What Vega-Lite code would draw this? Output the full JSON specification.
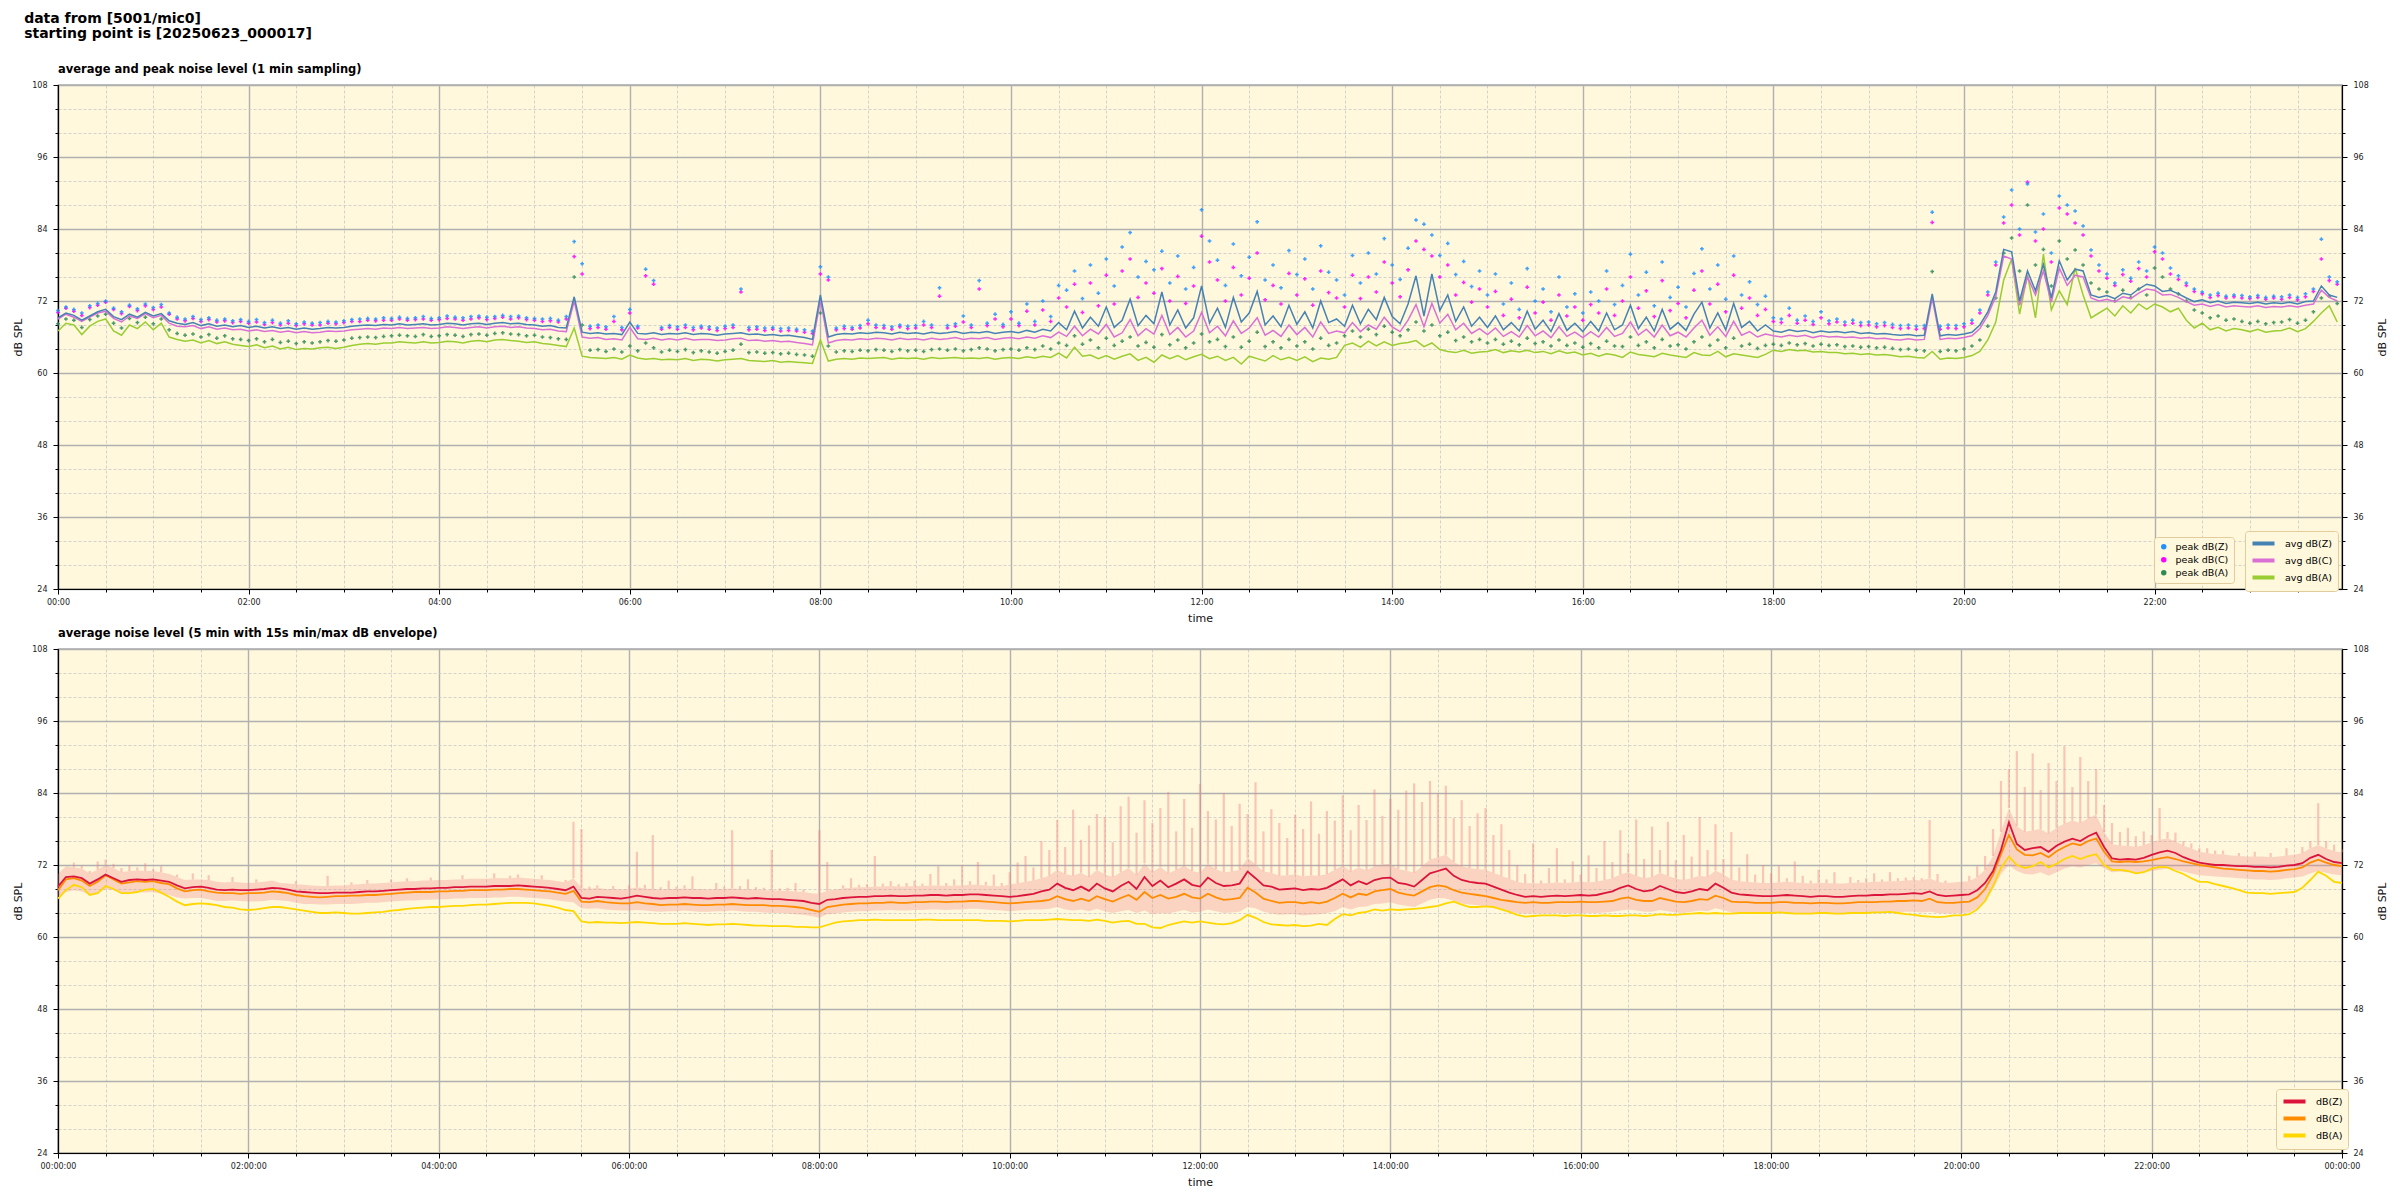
{
"$schema": "https://vega.github.io/schema/vega-lite/v6.json",
"background": "white",
"padding": {"left": 12, "top": 12, "right": 10, "bottom": 8},
"title": {"text": ["data from [5001/mic0]", "starting point is [20250623_000017]"], "anchor": "start", "frame": "bounds", "fontSize": 14, "fontWeight": "bold", "lineHeight": 14.5, "font": "DejaVu Sans", "color": "black", "offset": 22, "dx": 12},
"config": {
  "font": "DejaVu Sans",
  "view": {"fill": "#fff8dc", "stroke": "black", "strokeWidth": 1.2},
  "axis": {"labelFont": "DejaVu Sans", "labelFontSize": 8, "labelColor": "#222222", "titleFont": "DejaVu Sans", "titleFontSize": 11, "titleFontWeight": "normal", "titleColor": "#111111", "domainColor": "black", "domainWidth": 1.2, "tickColor": "black", "tickWidth": 1},
  "legend": {"labelFont": "DejaVu Sans", "labelFontSize": 9.5, "labelColor": "black", "fillColor": "#fff8dc", "strokeColor": "#e3cc9c", "cornerRadius": 3, "padding": 5, "rowPadding": 0, "labelOffset": 7},
  "title": {"font": "DejaVu Sans", "color": "black"}
},
"spacing": 2,
"datasets": {
"top": [
{"m":0,"Z":69.2,"C":69.0,"A":67.0,"P":70.4,"Q":70.1,"R":68.2},
{"m":5,"Z":70.0,"C":69.8,"A":68.3,"P":71.0,"Q":70.8,"R":69.0},
{"m":10,"Z":69.6,"C":69.3,"A":68.0,"P":70.6,"Q":70.3,"R":68.8},
{"m":15,"Z":68.8,"C":68.6,"A":66.4,"P":70.0,"Q":69.6,"R":67.6},
{"m":20,"Z":69.5,"C":69.3,"A":67.8,"P":71.2,"Q":70.9,"R":68.9},
{"m":25,"Z":70.2,"C":70.0,"A":68.6,"P":71.6,"Q":71.3,"R":69.5},
{"m":30,"Z":70.6,"C":70.3,"A":69.0,"P":72.0,"Q":71.8,"R":69.8},
{"m":35,"Z":69.4,"C":69.1,"A":67.0,"P":70.8,"Q":70.6,"R":68.3},
{"m":40,"Z":68.9,"C":68.5,"A":66.3,"P":70.2,"Q":69.9,"R":67.5},
{"m":45,"Z":69.8,"C":69.5,"A":68.0,"P":71.3,"Q":71.1,"R":69.1},
{"m":50,"Z":69.3,"C":69.1,"A":67.4,"P":70.7,"Q":70.4,"R":68.4},
{"m":55,"Z":70.1,"C":69.9,"A":68.5,"P":71.5,"Q":71.2,"R":69.3},
{"m":60,"Z":69.5,"C":69.2,"A":67.2,"P":70.9,"Q":70.6,"R":68.2},
{"m":65,"Z":69.9,"C":69.6,"A":68.3,"P":71.4,"Q":71.0,"R":69.0},
{"m":70,"Z":68.7,"C":68.3,"A":66.0,"P":70.0,"Q":69.8,"R":67.2},
{"m":75,"Z":68.3,"C":67.8,"A":65.6,"P":69.3,"Q":69.0,"R":66.6},
{"m":80,"Z":68.1,"C":67.7,"A":65.3,"P":69.0,"Q":68.7,"R":66.3},
{"m":85,"Z":68.4,"C":67.9,"A":65.5,"P":69.4,"Q":69.1,"R":66.5},
{"m":90,"Z":67.9,"C":67.4,"A":65.0,"P":68.9,"Q":68.6,"R":66.0},
{"m":95,"Z":68.2,"C":67.7,"A":65.4,"P":69.2,"Q":68.9,"R":66.4},
{"m":100,"Z":67.8,"C":67.3,"A":64.9,"P":68.8,"Q":68.5,"R":65.8},
{"m":105,"Z":68.0,"C":67.5,"A":65.2,"P":69.0,"Q":68.7,"R":66.2},
{"m":110,"Z":67.7,"C":67.2,"A":64.8,"P":68.7,"Q":68.4,"R":65.7},
{"m":115,"Z":67.9,"C":67.3,"A":64.6,"P":68.9,"Q":68.6,"R":65.6},
{"m":120,"Z":67.6,"C":67.0,"A":64.4,"P":68.6,"Q":68.3,"R":65.4},
{"m":125,"Z":67.8,"C":67.2,"A":64.7,"P":68.9,"Q":68.5,"R":65.7},
{"m":130,"Z":67.5,"C":66.9,"A":64.2,"P":68.4,"Q":68.1,"R":65.2},
{"m":135,"Z":67.7,"C":67.1,"A":64.5,"P":68.8,"Q":68.4,"R":65.6},
{"m":140,"Z":67.4,"C":66.8,"A":64.0,"P":68.3,"Q":68.0,"R":65.1},
{"m":145,"Z":67.6,"C":67.0,"A":64.3,"P":68.7,"Q":68.3,"R":65.3},
{"m":150,"Z":67.3,"C":66.7,"A":63.9,"P":68.2,"Q":67.9,"R":64.9},
{"m":155,"Z":67.5,"C":66.9,"A":64.1,"P":68.5,"Q":68.2,"R":65.2},
{"m":160,"Z":67.3,"C":66.7,"A":64.0,"P":68.3,"Q":68.0,"R":65.0},
{"m":165,"Z":67.4,"C":66.8,"A":64.2,"P":68.4,"Q":68.0,"R":65.2},
{"m":170,"Z":67.6,"C":67.0,"A":64.3,"P":68.6,"Q":68.3,"R":65.4},
{"m":175,"Z":67.5,"C":66.9,"A":64.1,"P":68.5,"Q":68.2,"R":65.3},
{"m":180,"Z":67.6,"C":67.0,"A":64.3,"P":68.7,"Q":68.4,"R":65.5},
{"m":185,"Z":67.8,"C":67.2,"A":64.6,"P":68.9,"Q":68.6,"R":65.8},
{"m":190,"Z":67.9,"C":67.3,"A":64.8,"P":69.0,"Q":68.6,"R":65.9},
{"m":195,"Z":68.0,"C":67.4,"A":64.9,"P":69.1,"Q":68.8,"R":66.0},
{"m":200,"Z":67.9,"C":67.3,"A":64.8,"P":69.0,"Q":68.7,"R":65.9},
{"m":205,"Z":68.1,"C":67.5,"A":65.0,"P":69.2,"Q":68.8,"R":66.1},
{"m":210,"Z":68.0,"C":67.4,"A":65.0,"P":69.1,"Q":68.8,"R":66.2},
{"m":215,"Z":68.2,"C":67.6,"A":65.2,"P":69.3,"Q":69.0,"R":66.3},
{"m":220,"Z":68.0,"C":67.4,"A":65.1,"P":69.1,"Q":68.8,"R":66.2},
{"m":225,"Z":68.1,"C":67.5,"A":65.0,"P":69.2,"Q":68.9,"R":66.1},
{"m":230,"Z":68.2,"C":67.6,"A":65.2,"P":69.4,"Q":69.0,"R":66.4},
{"m":235,"Z":68.0,"C":67.4,"A":65.0,"P":69.1,"Q":68.8,"R":66.1},
{"m":240,"Z":68.1,"C":67.5,"A":65.1,"P":69.2,"Q":68.9,"R":66.2},
{"m":245,"Z":68.3,"C":67.7,"A":65.3,"P":69.5,"Q":69.1,"R":66.4},
{"m":250,"Z":68.2,"C":67.6,"A":65.2,"P":69.3,"Q":69.0,"R":66.3},
{"m":255,"Z":68.0,"C":67.4,"A":65.0,"P":69.2,"Q":68.8,"R":66.1},
{"m":260,"Z":68.2,"C":67.6,"A":65.3,"P":69.4,"Q":69.0,"R":66.4},
{"m":265,"Z":68.3,"C":67.7,"A":65.4,"P":69.5,"Q":69.2,"R":66.5},
{"m":270,"Z":68.1,"C":67.5,"A":65.2,"P":69.3,"Q":68.9,"R":66.3},
{"m":275,"Z":68.3,"C":67.7,"A":65.5,"P":69.4,"Q":69.1,"R":66.6},
{"m":280,"Z":68.4,"C":67.8,"A":65.6,"P":69.6,"Q":69.3,"R":66.7},
{"m":285,"Z":68.2,"C":67.6,"A":65.4,"P":69.4,"Q":69.0,"R":66.5},
{"m":290,"Z":68.3,"C":67.7,"A":65.3,"P":69.5,"Q":69.2,"R":66.4},
{"m":295,"Z":68.1,"C":67.5,"A":65.1,"P":69.2,"Q":68.9,"R":66.2},
{"m":300,"Z":68.0,"C":67.4,"A":65.2,"P":69.1,"Q":68.8,"R":66.3},
{"m":305,"Z":67.8,"C":67.2,"A":64.9,"P":69.0,"Q":68.6,"R":66.0},
{"m":310,"Z":67.9,"C":67.3,"A":64.8,"P":69.1,"Q":68.7,"R":65.9},
{"m":315,"Z":67.6,"C":67.0,"A":64.6,"P":68.8,"Q":68.5,"R":65.7},
{"m":320,"Z":67.5,"C":66.9,"A":64.4,"P":69.4,"Q":69.0,"R":65.6},
{"m":325,"Z":72.7,"C":72.0,"A":67.5,"P":81.9,"Q":79.4,"R":76.0},
{"m":330,"Z":66.8,"C":66.0,"A":62.8,"P":78.2,"Q":76.5,"R":68.0},
{"m":335,"Z":66.6,"C":65.8,"A":62.6,"P":67.8,"Q":67.4,"R":63.8},
{"m":340,"Z":66.7,"C":65.9,"A":62.5,"P":68.0,"Q":67.6,"R":63.9},
{"m":345,"Z":66.5,"C":65.6,"A":62.4,"P":67.7,"Q":67.3,"R":63.6},
{"m":350,"Z":66.6,"C":65.7,"A":62.6,"P":69.4,"Q":68.6,"R":64.0},
{"m":355,"Z":66.4,"C":65.5,"A":62.3,"P":67.6,"Q":67.2,"R":63.5},
{"m":360,"Z":68.5,"C":67.6,"A":63.0,"P":70.6,"Q":70.0,"R":64.5},
{"m":365,"Z":66.6,"C":65.7,"A":62.5,"P":67.8,"Q":67.5,"R":63.7},
{"m":370,"Z":66.5,"C":65.6,"A":62.3,"P":77.3,"Q":76.2,"R":65.0},
{"m":375,"Z":66.7,"C":65.8,"A":62.4,"P":75.4,"Q":74.8,"R":64.2},
{"m":380,"Z":66.4,"C":65.5,"A":62.2,"P":67.6,"Q":67.3,"R":63.5},
{"m":385,"Z":66.6,"C":65.7,"A":62.3,"P":67.9,"Q":67.6,"R":63.8},
{"m":390,"Z":66.5,"C":65.5,"A":62.2,"P":67.7,"Q":67.3,"R":63.6},
{"m":395,"Z":66.7,"C":65.8,"A":62.4,"P":68.0,"Q":67.6,"R":63.9},
{"m":400,"Z":66.4,"C":65.5,"A":62.1,"P":67.6,"Q":67.2,"R":63.4},
{"m":405,"Z":66.6,"C":65.6,"A":62.3,"P":67.8,"Q":67.5,"R":63.7},
{"m":410,"Z":66.5,"C":65.6,"A":62.2,"P":67.7,"Q":67.3,"R":63.5},
{"m":415,"Z":66.3,"C":65.4,"A":62.0,"P":67.5,"Q":67.1,"R":63.3},
{"m":420,"Z":66.5,"C":65.5,"A":62.2,"P":67.8,"Q":67.4,"R":63.6},
{"m":425,"Z":66.6,"C":65.7,"A":62.3,"P":68.0,"Q":67.6,"R":63.8},
{"m":430,"Z":66.7,"C":65.8,"A":62.4,"P":74.0,"Q":73.5,"R":64.8},
{"m":435,"Z":66.4,"C":65.4,"A":62.1,"P":67.6,"Q":67.2,"R":63.4},
{"m":440,"Z":66.5,"C":65.5,"A":62.0,"P":67.7,"Q":67.3,"R":63.5},
{"m":445,"Z":66.3,"C":65.3,"A":61.9,"P":67.5,"Q":67.1,"R":63.3},
{"m":450,"Z":66.4,"C":65.4,"A":62.1,"P":67.6,"Q":67.3,"R":63.4},
{"m":455,"Z":66.2,"C":65.2,"A":61.8,"P":67.4,"Q":67.0,"R":63.2},
{"m":460,"Z":66.3,"C":65.3,"A":61.9,"P":67.5,"Q":67.1,"R":63.3},
{"m":465,"Z":66.1,"C":65.1,"A":61.8,"P":67.3,"Q":67.0,"R":63.1},
{"m":470,"Z":65.9,"C":64.9,"A":61.7,"P":67.2,"Q":66.8,"R":63.0},
{"m":475,"Z":65.6,"C":64.7,"A":61.6,"P":67.0,"Q":66.6,"R":62.8},
{"m":480,"Z":73.0,"C":72.2,"A":65.5,"P":77.7,"Q":76.5,"R":70.0},
{"m":485,"Z":66.0,"C":65.0,"A":62.0,"P":76.0,"Q":75.5,"R":64.5},
{"m":490,"Z":66.4,"C":65.4,"A":62.3,"P":67.5,"Q":67.2,"R":63.5},
{"m":495,"Z":66.6,"C":65.6,"A":62.4,"P":67.8,"Q":67.4,"R":63.7},
{"m":500,"Z":66.5,"C":65.5,"A":62.3,"P":67.6,"Q":67.3,"R":63.6},
{"m":505,"Z":66.7,"C":65.7,"A":62.5,"P":67.9,"Q":67.5,"R":63.8},
{"m":510,"Z":66.6,"C":65.6,"A":62.4,"P":68.8,"Q":68.2,"R":63.7},
{"m":515,"Z":66.8,"C":65.8,"A":62.5,"P":68.0,"Q":67.6,"R":63.9},
{"m":520,"Z":66.7,"C":65.7,"A":62.6,"P":67.9,"Q":67.5,"R":63.8},
{"m":525,"Z":66.5,"C":65.5,"A":62.3,"P":67.7,"Q":67.3,"R":63.6},
{"m":530,"Z":66.8,"C":65.8,"A":62.5,"P":68.0,"Q":67.7,"R":63.9},
{"m":535,"Z":66.6,"C":65.6,"A":62.4,"P":67.8,"Q":67.4,"R":63.7},
{"m":540,"Z":66.7,"C":65.7,"A":62.5,"P":67.9,"Q":67.5,"R":63.8},
{"m":545,"Z":66.5,"C":65.5,"A":62.3,"P":68.6,"Q":68.0,"R":63.6},
{"m":550,"Z":66.8,"C":65.8,"A":62.6,"P":68.0,"Q":67.6,"R":63.9},
{"m":555,"Z":66.6,"C":65.6,"A":62.4,"P":74.2,"Q":72.8,"R":64.0},
{"m":560,"Z":66.7,"C":65.7,"A":62.5,"P":67.9,"Q":67.5,"R":63.8},
{"m":565,"Z":66.9,"C":65.9,"A":62.6,"P":68.2,"Q":67.8,"R":64.0},
{"m":570,"Z":66.6,"C":65.6,"A":62.4,"P":69.5,"Q":68.5,"R":63.7},
{"m":575,"Z":66.8,"C":65.8,"A":62.5,"P":68.0,"Q":67.6,"R":63.9},
{"m":580,"Z":66.7,"C":65.7,"A":62.4,"P":75.4,"Q":74.0,"R":64.2},
{"m":585,"Z":66.9,"C":65.9,"A":62.6,"P":68.3,"Q":67.9,"R":64.0},
{"m":590,"Z":66.6,"C":65.6,"A":62.3,"P":69.8,"Q":69.0,"R":63.7},
{"m":595,"Z":66.8,"C":65.8,"A":62.5,"P":68.1,"Q":67.7,"R":63.9},
{"m":600,"Z":66.9,"C":65.9,"A":62.6,"P":70.2,"Q":69.0,"R":64.0},
{"m":605,"Z":66.7,"C":65.7,"A":62.4,"P":68.3,"Q":67.9,"R":63.8},
{"m":610,"Z":67.1,"C":66.0,"A":62.7,"P":71.5,"Q":70.3,"R":64.2},
{"m":615,"Z":66.8,"C":65.8,"A":62.5,"P":68.6,"Q":68.0,"R":63.9},
{"m":620,"Z":67.3,"C":66.2,"A":62.8,"P":72.0,"Q":70.5,"R":64.5},
{"m":625,"Z":67.0,"C":65.9,"A":62.6,"P":69.4,"Q":68.6,"R":64.0},
{"m":630,"Z":68.4,"C":66.8,"A":63.3,"P":74.6,"Q":72.5,"R":65.0},
{"m":635,"Z":67.2,"C":66.1,"A":62.5,"P":73.8,"Q":71.0,"R":64.6},
{"m":640,"Z":70.3,"C":67.8,"A":64.3,"P":77.0,"Q":74.8,"R":66.2},
{"m":645,"Z":67.5,"C":66.2,"A":62.8,"P":72.4,"Q":70.1,"R":64.8},
{"m":650,"Z":69.3,"C":67.3,"A":63.0,"P":78.0,"Q":75.0,"R":65.5},
{"m":655,"Z":67.8,"C":66.5,"A":62.4,"P":73.3,"Q":71.2,"R":64.2},
{"m":660,"Z":71.0,"C":68.1,"A":62.9,"P":79.0,"Q":76.3,"R":65.8},
{"m":665,"Z":67.6,"C":66.0,"A":62.3,"P":74.5,"Q":71.5,"R":64.6},
{"m":670,"Z":68.8,"C":66.7,"A":62.8,"P":81.0,"Q":77.0,"R":65.3},
{"m":675,"Z":72.3,"C":68.9,"A":63.2,"P":83.4,"Q":79.0,"R":66.0},
{"m":680,"Z":67.9,"C":66.2,"A":62.1,"P":76.0,"Q":72.6,"R":64.5},
{"m":685,"Z":69.6,"C":67.4,"A":62.6,"P":78.6,"Q":75.0,"R":65.1},
{"m":690,"Z":68.2,"C":66.5,"A":61.8,"P":77.2,"Q":73.3,"R":64.3},
{"m":695,"Z":73.5,"C":69.6,"A":63.0,"P":80.3,"Q":77.4,"R":66.4},
{"m":700,"Z":68.0,"C":66.4,"A":62.4,"P":75.0,"Q":72.0,"R":64.7},
{"m":705,"Z":70.5,"C":67.6,"A":62.9,"P":79.5,"Q":76.1,"R":65.5},
{"m":710,"Z":67.5,"C":66.0,"A":62.2,"P":74.0,"Q":71.6,"R":64.2},
{"m":715,"Z":69.2,"C":67.0,"A":62.7,"P":77.6,"Q":74.5,"R":65.0},
{"m":720,"Z":74.5,"C":70.1,"A":63.1,"P":87.2,"Q":82.8,"R":66.5},
{"m":725,"Z":68.3,"C":66.7,"A":62.4,"P":82.0,"Q":78.5,"R":65.2},
{"m":730,"Z":70.8,"C":67.8,"A":62.8,"P":78.8,"Q":75.5,"R":65.6},
{"m":735,"Z":67.6,"C":66.2,"A":62.1,"P":74.6,"Q":72.0,"R":64.4},
{"m":740,"Z":72.6,"C":68.7,"A":62.6,"P":81.5,"Q":77.6,"R":66.0},
{"m":745,"Z":68.5,"C":66.6,"A":61.5,"P":76.2,"Q":73.0,"R":64.3},
{"m":750,"Z":70.0,"C":67.5,"A":62.8,"P":79.3,"Q":75.8,"R":65.3},
{"m":755,"Z":73.6,"C":69.2,"A":62.4,"P":85.2,"Q":80.0,"R":66.8},
{"m":760,"Z":68.0,"C":66.3,"A":62.0,"P":75.5,"Q":72.2,"R":64.4},
{"m":765,"Z":69.5,"C":67.1,"A":62.9,"P":78.0,"Q":74.6,"R":65.2},
{"m":770,"Z":67.7,"C":66.1,"A":62.2,"P":74.2,"Q":71.5,"R":64.2},
{"m":775,"Z":71.3,"C":68.0,"A":62.6,"P":80.4,"Q":76.6,"R":65.6},
{"m":780,"Z":68.1,"C":66.4,"A":62.1,"P":76.4,"Q":73.0,"R":64.5},
{"m":785,"Z":70.2,"C":67.6,"A":62.7,"P":79.0,"Q":75.7,"R":65.2},
{"m":790,"Z":67.5,"C":66.0,"A":61.9,"P":74.0,"Q":71.3,"R":64.0},
{"m":795,"Z":72.0,"C":68.5,"A":62.5,"P":81.2,"Q":77.0,"R":65.8},
{"m":800,"Z":68.4,"C":66.6,"A":62.3,"P":76.8,"Q":73.4,"R":64.6},
{"m":805,"Z":69.0,"C":67.0,"A":62.6,"P":75.5,"Q":72.5,"R":65.0},
{"m":810,"Z":67.8,"C":66.7,"A":64.6,"P":73.0,"Q":71.0,"R":66.2},
{"m":815,"Z":71.3,"C":68.4,"A":65.0,"P":79.6,"Q":76.3,"R":67.0},
{"m":820,"Z":68.2,"C":66.9,"A":64.3,"P":75.0,"Q":72.4,"R":66.0},
{"m":825,"Z":70.6,"C":68.0,"A":65.3,"P":80.0,"Q":76.0,"R":67.3},
{"m":830,"Z":68.9,"C":67.3,"A":64.5,"P":76.5,"Q":73.5,"R":66.4},
{"m":835,"Z":72.6,"C":69.3,"A":65.2,"P":82.4,"Q":78.5,"R":67.8},
{"m":840,"Z":69.4,"C":67.7,"A":64.6,"P":78.0,"Q":75.0,"R":66.8},
{"m":845,"Z":68.2,"C":66.9,"A":64.9,"P":75.6,"Q":72.7,"R":66.2},
{"m":850,"Z":71.5,"C":68.8,"A":65.1,"P":80.8,"Q":77.2,"R":67.2},
{"m":855,"Z":76.2,"C":71.4,"A":65.4,"P":85.5,"Q":82.0,"R":68.5},
{"m":860,"Z":69.5,"C":67.7,"A":64.4,"P":84.8,"Q":80.6,"R":67.0},
{"m":865,"Z":76.5,"C":71.6,"A":65.0,"P":83.0,"Q":79.5,"R":68.0},
{"m":870,"Z":70.4,"C":68.3,"A":63.9,"P":79.6,"Q":76.0,"R":66.2},
{"m":875,"Z":73.0,"C":69.8,"A":63.6,"P":81.6,"Q":78.0,"R":66.8},
{"m":880,"Z":68.6,"C":67.2,"A":63.4,"P":76.4,"Q":73.0,"R":65.4},
{"m":885,"Z":71.0,"C":68.3,"A":63.8,"P":78.6,"Q":75.1,"R":66.0},
{"m":890,"Z":67.8,"C":66.6,"A":63.3,"P":74.4,"Q":71.8,"R":65.2},
{"m":895,"Z":69.3,"C":67.4,"A":63.5,"P":77.0,"Q":74.0,"R":65.6},
{"m":900,"Z":67.6,"C":66.4,"A":63.6,"P":73.0,"Q":71.0,"R":65.0},
{"m":905,"Z":69.5,"C":67.5,"A":63.9,"P":76.5,"Q":73.6,"R":65.6},
{"m":910,"Z":67.2,"C":66.1,"A":63.4,"P":71.5,"Q":69.6,"R":64.8},
{"m":915,"Z":68.4,"C":66.9,"A":63.7,"P":75.0,"Q":72.3,"R":65.3},
{"m":920,"Z":67.0,"C":66.0,"A":63.5,"P":70.6,"Q":69.2,"R":64.7},
{"m":925,"Z":70.3,"C":67.9,"A":63.8,"P":77.4,"Q":74.3,"R":65.8},
{"m":930,"Z":67.3,"C":66.2,"A":63.4,"P":72.0,"Q":70.0,"R":64.9},
{"m":935,"Z":68.8,"C":67.0,"A":63.6,"P":74.0,"Q":71.8,"R":65.2},
{"m":940,"Z":66.9,"C":65.9,"A":63.2,"P":70.2,"Q":68.8,"R":64.5},
{"m":945,"Z":69.9,"C":67.7,"A":63.7,"P":76.0,"Q":73.0,"R":65.5},
{"m":950,"Z":67.1,"C":66.1,"A":63.3,"P":71.0,"Q":69.5,"R":64.6},
{"m":955,"Z":68.3,"C":66.8,"A":63.5,"P":73.2,"Q":71.0,"R":65.0},
{"m":960,"Z":66.9,"C":65.9,"A":63.0,"P":70.0,"Q":68.8,"R":64.3},
{"m":965,"Z":68.6,"C":66.9,"A":63.3,"P":73.5,"Q":71.4,"R":64.9},
{"m":970,"Z":67.0,"C":66.0,"A":62.8,"P":72.0,"Q":70.0,"R":64.2},
{"m":975,"Z":70.0,"C":67.6,"A":63.2,"P":77.0,"Q":74.0,"R":65.3},
{"m":980,"Z":67.2,"C":66.1,"A":63.0,"P":71.4,"Q":69.6,"R":64.5},
{"m":985,"Z":68.0,"C":66.6,"A":62.6,"P":74.6,"Q":72.0,"R":64.4},
{"m":990,"Z":71.3,"C":68.5,"A":63.5,"P":79.8,"Q":76.0,"R":66.0},
{"m":995,"Z":67.4,"C":66.3,"A":63.1,"P":73.0,"Q":70.8,"R":64.6},
{"m":1000,"Z":69.3,"C":67.3,"A":62.9,"P":76.8,"Q":73.7,"R":65.2},
{"m":1005,"Z":67.0,"C":66.0,"A":62.7,"P":71.2,"Q":69.4,"R":64.2},
{"m":1010,"Z":70.6,"C":68.0,"A":63.3,"P":78.5,"Q":75.4,"R":65.6},
{"m":1015,"Z":67.3,"C":66.2,"A":63.0,"P":72.6,"Q":70.4,"R":64.5},
{"m":1020,"Z":68.4,"C":66.8,"A":62.8,"P":74.3,"Q":71.6,"R":64.7},
{"m":1025,"Z":67.1,"C":66.0,"A":62.6,"P":71.0,"Q":69.2,"R":64.0},
{"m":1030,"Z":69.8,"C":67.5,"A":63.4,"P":76.6,"Q":73.8,"R":65.2},
{"m":1035,"Z":71.8,"C":68.8,"A":63.0,"P":80.7,"Q":77.0,"R":66.0},
{"m":1040,"Z":67.5,"C":66.3,"A":62.9,"P":74.0,"Q":71.5,"R":64.6},
{"m":1045,"Z":70.0,"C":67.7,"A":63.6,"P":78.0,"Q":74.8,"R":65.5},
{"m":1050,"Z":67.2,"C":66.1,"A":62.7,"P":72.3,"Q":70.2,"R":64.2},
{"m":1055,"Z":71.6,"C":68.6,"A":63.2,"P":79.5,"Q":76.3,"R":65.8},
{"m":1060,"Z":67.6,"C":66.3,"A":63.0,"P":73.0,"Q":70.8,"R":64.5},
{"m":1065,"Z":68.6,"C":66.9,"A":62.8,"P":75.2,"Q":72.5,"R":64.8},
{"m":1070,"Z":67.0,"C":66.0,"A":62.6,"P":71.4,"Q":69.6,"R":64.1},
{"m":1075,"Z":68.0,"C":66.5,"A":63.1,"P":72.8,"Q":70.6,"R":64.6},
{"m":1080,"Z":67.0,"C":66.2,"A":63.8,"P":69.2,"Q":68.6,"R":64.8},
{"m":1085,"Z":66.8,"C":66.0,"A":63.6,"P":69.0,"Q":68.4,"R":64.6},
{"m":1090,"Z":67.2,"C":66.3,"A":63.9,"P":70.8,"Q":69.6,"R":65.0},
{"m":1095,"Z":66.9,"C":66.1,"A":63.7,"P":68.8,"Q":68.3,"R":64.7},
{"m":1100,"Z":67.1,"C":66.3,"A":63.8,"P":69.5,"Q":68.8,"R":64.9},
{"m":1105,"Z":66.7,"C":65.9,"A":63.5,"P":68.6,"Q":68.1,"R":64.5},
{"m":1110,"Z":67.0,"C":66.2,"A":63.6,"P":70.2,"Q":69.2,"R":64.8},
{"m":1115,"Z":66.8,"C":66.0,"A":63.4,"P":68.7,"Q":68.2,"R":64.6},
{"m":1120,"Z":66.9,"C":66.1,"A":63.4,"P":69.0,"Q":68.5,"R":64.7},
{"m":1125,"Z":66.7,"C":65.9,"A":63.2,"P":68.5,"Q":68.0,"R":64.4},
{"m":1130,"Z":66.9,"C":66.0,"A":63.3,"P":68.8,"Q":68.3,"R":64.5},
{"m":1135,"Z":66.6,"C":65.8,"A":63.1,"P":68.4,"Q":67.9,"R":64.3},
{"m":1140,"Z":66.7,"C":65.9,"A":63.2,"P":68.5,"Q":68.0,"R":64.4},
{"m":1145,"Z":66.5,"C":65.7,"A":63.0,"P":68.2,"Q":67.7,"R":64.2},
{"m":1150,"Z":66.6,"C":65.8,"A":63.1,"P":68.4,"Q":67.9,"R":64.3},
{"m":1155,"Z":66.4,"C":65.6,"A":62.9,"P":68.1,"Q":67.6,"R":64.1},
{"m":1160,"Z":66.3,"C":65.5,"A":62.7,"P":67.9,"Q":67.4,"R":63.9},
{"m":1165,"Z":66.4,"C":65.7,"A":62.8,"P":68.0,"Q":67.5,"R":64.0},
{"m":1170,"Z":66.2,"C":65.5,"A":62.6,"P":67.8,"Q":67.3,"R":63.8},
{"m":1175,"Z":66.3,"C":65.6,"A":62.5,"P":67.9,"Q":67.4,"R":63.7},
{"m":1180,"Z":73.2,"C":72.5,"A":63.6,"P":86.8,"Q":85.1,"R":76.9},
{"m":1185,"Z":66.2,"C":65.6,"A":62.3,"P":67.8,"Q":67.3,"R":63.6},
{"m":1190,"Z":66.4,"C":65.8,"A":62.5,"P":68.0,"Q":67.5,"R":63.8},
{"m":1195,"Z":66.3,"C":65.7,"A":62.4,"P":67.9,"Q":67.4,"R":63.7},
{"m":1200,"Z":66.5,"C":65.9,"A":62.6,"P":68.2,"Q":67.7,"R":64.0},
{"m":1205,"Z":66.8,"C":66.2,"A":62.9,"P":68.8,"Q":68.3,"R":64.5},
{"m":1210,"Z":68.0,"C":67.4,"A":63.6,"P":70.5,"Q":70.0,"R":65.5},
{"m":1215,"Z":70.2,"C":69.6,"A":65.5,"P":73.5,"Q":73.0,"R":67.8},
{"m":1220,"Z":73.5,"C":72.8,"A":68.5,"P":78.5,"Q":78.0,"R":72.5},
{"m":1225,"Z":80.6,"C":79.5,"A":75.5,"P":86.0,"Q":85.0,"R":80.0},
{"m":1230,"Z":80.2,"C":79.0,"A":79.0,"P":90.5,"Q":88.0,"R":82.5},
{"m":1235,"Z":72.0,"C":71.3,"A":69.8,"P":84.0,"Q":83.0,"R":77.0},
{"m":1240,"Z":77.0,"C":76.0,"A":76.4,"P":91.5,"Q":91.8,"R":88.0},
{"m":1245,"Z":73.7,"C":73.0,"A":69.2,"P":83.5,"Q":82.0,"R":78.0},
{"m":1250,"Z":78.1,"C":77.0,"A":79.8,"P":86.5,"Q":84.0,"R":80.6},
{"m":1255,"Z":72.5,"C":71.8,"A":70.5,"P":80.0,"Q":78.5,"R":74.5},
{"m":1260,"Z":78.7,"C":77.5,"A":73.7,"P":89.5,"Q":87.5,"R":82.0},
{"m":1265,"Z":75.5,"C":74.6,"A":71.4,"P":88.0,"Q":86.5,"R":79.0},
{"m":1270,"Z":77.3,"C":76.3,"A":77.5,"P":87.0,"Q":85.0,"R":80.5},
{"m":1275,"Z":77.0,"C":76.0,"A":73.0,"P":84.5,"Q":83.0,"R":78.0},
{"m":1280,"Z":73.0,"C":72.5,"A":69.2,"P":80.5,"Q":79.5,"R":75.0},
{"m":1285,"Z":72.6,"C":72.0,"A":70.0,"P":78.0,"Q":77.0,"R":74.0},
{"m":1290,"Z":72.9,"C":72.3,"A":70.8,"P":76.5,"Q":75.8,"R":73.5},
{"m":1295,"Z":72.4,"C":71.9,"A":69.5,"P":75.0,"Q":74.6,"R":72.0},
{"m":1300,"Z":73.3,"C":72.7,"A":71.2,"P":77.2,"Q":76.4,"R":73.8},
{"m":1305,"Z":73.0,"C":72.4,"A":70.0,"P":75.8,"Q":75.3,"R":72.6},
{"m":1310,"Z":74.0,"C":73.3,"A":71.5,"P":78.5,"Q":77.4,"R":74.0},
{"m":1315,"Z":74.8,"C":74.0,"A":70.6,"P":77.0,"Q":76.0,"R":73.0},
{"m":1320,"Z":74.5,"C":73.8,"A":71.5,"P":81.0,"Q":80.2,"R":77.5},
{"m":1325,"Z":73.6,"C":73.0,"A":71.0,"P":80.0,"Q":79.0,"R":76.0},
{"m":1330,"Z":73.8,"C":73.1,"A":70.2,"P":77.5,"Q":76.5,"R":74.0},
{"m":1335,"Z":73.2,"C":72.6,"A":70.8,"P":76.2,"Q":75.6,"R":73.2},
{"m":1340,"Z":72.5,"C":71.9,"A":68.8,"P":75.0,"Q":74.6,"R":72.0},
{"m":1345,"Z":71.9,"C":71.3,"A":67.5,"P":74.0,"Q":73.6,"R":70.5},
{"m":1350,"Z":72.2,"C":71.5,"A":68.3,"P":73.5,"Q":73.2,"R":70.0},
{"m":1355,"Z":71.7,"C":71.1,"A":67.2,"P":73.0,"Q":72.6,"R":69.2},
{"m":1360,"Z":72.0,"C":71.4,"A":67.6,"P":73.3,"Q":72.9,"R":69.5},
{"m":1365,"Z":71.6,"C":71.0,"A":67.0,"P":72.8,"Q":72.5,"R":68.8},
{"m":1370,"Z":71.8,"C":71.2,"A":67.4,"P":73.0,"Q":72.7,"R":69.0},
{"m":1375,"Z":71.7,"C":71.1,"A":67.2,"P":72.9,"Q":72.5,"R":68.6},
{"m":1380,"Z":71.6,"C":71.0,"A":66.9,"P":72.7,"Q":72.4,"R":68.3},
{"m":1385,"Z":71.8,"C":71.2,"A":67.3,"P":72.9,"Q":72.6,"R":68.6},
{"m":1390,"Z":71.5,"C":70.9,"A":66.8,"P":72.6,"Q":72.3,"R":68.2},
{"m":1395,"Z":71.7,"C":71.1,"A":67.0,"P":72.8,"Q":72.5,"R":68.4},
{"m":1400,"Z":71.6,"C":71.0,"A":67.1,"P":72.7,"Q":72.3,"R":68.5},
{"m":1405,"Z":71.8,"C":71.2,"A":67.5,"P":73.0,"Q":72.6,"R":68.9},
{"m":1410,"Z":71.5,"C":71.0,"A":66.9,"P":72.6,"Q":72.2,"R":68.3},
{"m":1415,"Z":71.9,"C":71.3,"A":67.4,"P":73.2,"Q":72.7,"R":68.8},
{"m":1420,"Z":72.0,"C":71.5,"A":68.6,"P":74.0,"Q":73.6,"R":70.2},
{"m":1425,"Z":74.5,"C":73.8,"A":70.0,"P":82.3,"Q":79.0,"R":72.5},
{"m":1430,"Z":73.0,"C":72.6,"A":71.2,"P":76.0,"Q":75.4,"R":72.8},
{"m":1435,"Z":72.6,"C":72.0,"A":68.5,"P":75.2,"Q":74.8,"R":71.6}
],
"bot": [
{"m":0,"z":68.4,"c":67.8,"a":66.4,"lo":66.8,"b":70.5,"hi":70.5},
{"m":5,"z":70.0,"c":69.6,"a":67.8,"lo":67.5,"b":71.8,"hi":71.8},
{"m":10,"z":70.1,"c":69.8,"a":68.7,"lo":67.8,"b":71.6,"hi":72.4},
{"m":15,"z":69.8,"c":69.4,"a":68.3,"lo":67.6,"b":71.4,"hi":71.9},
{"m":20,"z":68.9,"c":68.5,"a":67.0,"lo":67.0,"b":70.6,"hi":71.0},
{"m":25,"z":69.6,"c":69.2,"a":67.3,"lo":67.3,"b":71.2,"hi":72.6},
{"m":30,"z":70.4,"c":70.3,"a":68.5,"lo":68.0,"b":72.0,"hi":72.9},
{"m":35,"z":69.8,"c":69.6,"a":68.0,"lo":67.8,"b":71.5,"hi":72.2},
{"m":40,"z":69.2,"c":68.9,"a":67.3,"lo":67.4,"b":70.8,"hi":71.5},
{"m":45,"z":69.5,"c":69.1,"a":67.3,"lo":67.3,"b":71.0,"hi":72.0},
{"m":50,"z":69.6,"c":69.3,"a":67.5,"lo":67.5,"b":71.1,"hi":71.6},
{"m":55,"z":69.5,"c":69.2,"a":67.9,"lo":67.4,"b":71.0,"hi":72.3},
{"m":60,"z":69.6,"c":69.3,"a":68.0,"lo":67.5,"b":71.0,"hi":71.4},
{"m":65,"z":69.4,"c":69.0,"a":67.4,"lo":67.2,"b":70.8,"hi":71.8},
{"m":70,"z":69.2,"c":68.8,"a":66.7,"lo":67.0,"b":70.5,"hi":70.8},
{"m":75,"z":68.6,"c":68.1,"a":65.9,"lo":66.6,"b":70.0,"hi":70.4},
{"m":80,"z":68.1,"c":67.6,"a":65.3,"lo":66.4,"b":69.5,"hi":69.8},
{"m":85,"z":68.3,"c":67.8,"a":65.5,"lo":66.5,"b":69.6,"hi":70.6},
{"m":90,"z":68.4,"c":67.9,"a":65.6,"lo":66.5,"b":69.6,"hi":69.7},
{"m":95,"z":68.2,"c":67.6,"a":65.5,"lo":66.3,"b":69.5,"hi":70.3},
{"m":100,"z":67.9,"c":67.4,"a":65.3,"lo":66.0,"b":69.2,"hi":69.4},
{"m":105,"z":67.8,"c":67.3,"a":65.0,"lo":66.0,"b":69.1,"hi":69.1},
{"m":110,"z":67.9,"c":67.3,"a":64.9,"lo":66.1,"b":69.2,"hi":70.0},
{"m":115,"z":67.8,"c":67.2,"a":64.6,"lo":66.0,"b":69.1,"hi":69.2},
{"m":120,"z":67.8,"c":67.3,"a":64.5,"lo":65.9,"b":69.0,"hi":69.0},
{"m":125,"z":67.9,"c":67.3,"a":64.6,"lo":65.9,"b":69.1,"hi":69.6},
{"m":130,"z":68.0,"c":67.4,"a":64.8,"lo":66.0,"b":69.2,"hi":69.2},
{"m":135,"z":68.2,"c":67.6,"a":65.0,"lo":66.2,"b":69.4,"hi":69.4},
{"m":140,"z":68.1,"c":67.5,"a":65.0,"lo":66.1,"b":69.0,"hi":69.0},
{"m":145,"z":67.9,"c":67.3,"a":64.8,"lo":66.0,"b":68.9,"hi":68.9},
{"m":150,"z":67.6,"c":67.0,"a":64.6,"lo":65.7,"b":68.8,"hi":69.3},
{"m":155,"z":67.5,"c":66.8,"a":64.4,"lo":65.5,"b":68.7,"hi":68.7},
{"m":160,"z":67.4,"c":66.7,"a":64.2,"lo":65.5,"b":68.6,"hi":68.6},
{"m":165,"z":67.3,"c":66.6,"a":64.0,"lo":65.4,"b":68.5,"hi":68.5},
{"m":170,"z":67.3,"c":66.7,"a":64.0,"lo":65.4,"b":68.5,"hi":70.2},
{"m":175,"z":67.4,"c":66.8,"a":64.1,"lo":65.5,"b":68.6,"hi":68.8},
{"m":180,"z":67.4,"c":66.8,"a":64.0,"lo":65.5,"b":68.6,"hi":68.8},
{"m":185,"z":67.4,"c":66.9,"a":63.9,"lo":65.5,"b":68.7,"hi":69.1},
{"m":190,"z":67.5,"c":66.9,"a":63.9,"lo":65.6,"b":68.8,"hi":68.9},
{"m":195,"z":67.6,"c":67.0,"a":64.0,"lo":65.7,"b":68.9,"hi":69.5},
{"m":200,"z":67.6,"c":67.0,"a":64.1,"lo":65.7,"b":68.9,"hi":69.0},
{"m":205,"z":67.7,"c":67.1,"a":64.2,"lo":65.8,"b":69.0,"hi":69.2},
{"m":210,"z":67.8,"c":67.2,"a":64.4,"lo":65.9,"b":69.1,"hi":69.6},
{"m":215,"z":67.9,"c":67.3,"a":64.5,"lo":66.0,"b":69.2,"hi":69.3},
{"m":220,"z":68.0,"c":67.4,"a":64.7,"lo":66.1,"b":69.3,"hi":69.8},
{"m":225,"z":68.0,"c":67.5,"a":64.8,"lo":66.1,"b":69.3,"hi":69.4},
{"m":230,"z":68.1,"c":67.5,"a":64.9,"lo":66.2,"b":69.4,"hi":69.5},
{"m":235,"z":68.1,"c":67.5,"a":65.0,"lo":66.2,"b":69.4,"hi":69.9},
{"m":240,"z":68.2,"c":67.6,"a":65.0,"lo":66.3,"b":69.5,"hi":69.6},
{"m":245,"z":68.2,"c":67.6,"a":65.1,"lo":66.3,"b":69.5,"hi":69.8},
{"m":250,"z":68.3,"c":67.7,"a":65.2,"lo":66.4,"b":69.6,"hi":69.7},
{"m":255,"z":68.3,"c":67.7,"a":65.2,"lo":66.4,"b":69.6,"hi":70.3},
{"m":260,"z":68.4,"c":67.8,"a":65.3,"lo":66.5,"b":69.7,"hi":69.8},
{"m":265,"z":68.4,"c":67.8,"a":65.4,"lo":66.5,"b":69.7,"hi":70.0},
{"m":270,"z":68.4,"c":67.8,"a":65.4,"lo":66.5,"b":69.7,"hi":69.9},
{"m":275,"z":68.5,"c":67.9,"a":65.5,"lo":66.6,"b":69.8,"hi":70.6},
{"m":280,"z":68.5,"c":67.9,"a":65.6,"lo":66.6,"b":69.8,"hi":70.1},
{"m":285,"z":68.5,"c":68.0,"a":65.7,"lo":66.7,"b":69.8,"hi":70.2},
{"m":290,"z":68.6,"c":68.0,"a":65.7,"lo":66.7,"b":69.9,"hi":70.4},
{"m":295,"z":68.5,"c":67.9,"a":65.7,"lo":66.6,"b":69.8,"hi":70.0},
{"m":300,"z":68.4,"c":67.8,"a":65.6,"lo":66.5,"b":69.7,"hi":69.9},
{"m":305,"z":68.3,"c":67.7,"a":65.4,"lo":66.4,"b":69.6,"hi":70.3},
{"m":310,"z":68.2,"c":67.6,"a":65.2,"lo":66.3,"b":69.5,"hi":69.8},
{"m":315,"z":68.0,"c":67.4,"a":64.9,"lo":66.1,"b":69.3,"hi":69.6},
{"m":320,"z":67.8,"c":67.2,"a":64.5,"lo":65.9,"b":69.1,"hi":69.5},
{"m":325,"z":68.4,"c":67.7,"a":64.3,"lo":65.8,"b":69.8,"hi":79.2},
{"m":330,"z":66.5,"c":65.9,"a":62.6,"lo":64.8,"b":68.2,"hi":78.0},
{"m":335,"z":66.4,"c":65.8,"a":62.4,"lo":64.7,"b":68.0,"hi":68.4},
{"m":340,"z":66.7,"c":66.0,"a":62.5,"lo":64.8,"b":68.2,"hi":68.6},
{"m":345,"z":66.6,"c":65.8,"a":62.4,"lo":64.6,"b":68.0,"hi":68.3},
{"m":350,"z":66.5,"c":65.7,"a":62.4,"lo":64.5,"b":68.0,"hi":68.5},
{"m":355,"z":66.4,"c":65.6,"a":62.3,"lo":64.4,"b":67.9,"hi":68.2},
{"m":360,"z":66.6,"c":65.6,"a":62.4,"lo":64.4,"b":68.0,"hi":68.6},
{"m":365,"z":66.9,"c":65.8,"a":62.5,"lo":64.5,"b":68.3,"hi":74.2},
{"m":370,"z":66.7,"c":65.6,"a":62.4,"lo":64.4,"b":68.1,"hi":68.7},
{"m":375,"z":66.5,"c":65.5,"a":62.3,"lo":64.3,"b":68.0,"hi":77.0},
{"m":380,"z":66.4,"c":65.3,"a":62.2,"lo":64.2,"b":67.9,"hi":68.3},
{"m":385,"z":66.5,"c":65.4,"a":62.2,"lo":64.3,"b":68.0,"hi":69.4},
{"m":390,"z":66.5,"c":65.4,"a":62.2,"lo":64.3,"b":68.0,"hi":68.4},
{"m":395,"z":66.6,"c":65.5,"a":62.3,"lo":64.4,"b":68.1,"hi":68.6},
{"m":400,"z":66.5,"c":65.4,"a":62.2,"lo":64.3,"b":68.0,"hi":70.1},
{"m":405,"z":66.5,"c":65.3,"a":62.1,"lo":64.2,"b":68.0,"hi":68.3},
{"m":410,"z":66.4,"c":65.3,"a":62.0,"lo":64.2,"b":67.9,"hi":68.2},
{"m":415,"z":66.5,"c":65.4,"a":62.1,"lo":64.3,"b":68.0,"hi":69.0},
{"m":420,"z":66.5,"c":65.4,"a":62.1,"lo":64.3,"b":68.0,"hi":68.4},
{"m":425,"z":66.6,"c":65.5,"a":62.2,"lo":64.4,"b":68.1,"hi":77.8},
{"m":430,"z":66.5,"c":65.4,"a":62.1,"lo":64.3,"b":68.0,"hi":68.5},
{"m":435,"z":66.4,"c":65.3,"a":62.0,"lo":64.2,"b":67.9,"hi":69.6},
{"m":440,"z":66.5,"c":65.3,"a":61.9,"lo":64.2,"b":67.9,"hi":68.3},
{"m":445,"z":66.4,"c":65.3,"a":61.9,"lo":64.1,"b":67.8,"hi":68.2},
{"m":450,"z":66.3,"c":65.2,"a":61.8,"lo":64.0,"b":67.8,"hi":74.5},
{"m":455,"z":66.3,"c":65.2,"a":61.8,"lo":64.0,"b":67.7,"hi":68.1},
{"m":460,"z":66.2,"c":65.1,"a":61.8,"lo":63.9,"b":67.7,"hi":68.2},
{"m":465,"z":66.1,"c":65.0,"a":61.7,"lo":63.8,"b":67.6,"hi":69.0},
{"m":470,"z":66.0,"c":64.8,"a":61.7,"lo":63.7,"b":67.5,"hi":67.9},
{"m":475,"z":65.7,"c":64.5,"a":61.6,"lo":63.5,"b":67.3,"hi":67.6},
{"m":480,"z":65.5,"c":64.2,"a":61.6,"lo":63.2,"b":67.2,"hi":77.8},
{"m":485,"z":66.2,"c":65.0,"a":62.0,"lo":63.8,"b":67.7,"hi":72.5},
{"m":490,"z":66.3,"c":65.2,"a":62.4,"lo":63.9,"b":67.9,"hi":68.2},
{"m":495,"z":66.5,"c":65.4,"a":62.6,"lo":64.1,"b":68.1,"hi":68.6},
{"m":500,"z":66.6,"c":65.5,"a":62.7,"lo":64.2,"b":68.2,"hi":69.8},
{"m":505,"z":66.7,"c":65.6,"a":62.8,"lo":64.3,"b":68.3,"hi":68.7},
{"m":510,"z":66.7,"c":65.6,"a":62.8,"lo":64.3,"b":68.3,"hi":68.8},
{"m":515,"z":66.8,"c":65.7,"a":62.9,"lo":64.4,"b":68.4,"hi":73.5},
{"m":520,"z":66.8,"c":65.7,"a":62.8,"lo":64.4,"b":68.4,"hi":68.9},
{"m":525,"z":66.9,"c":65.8,"a":62.8,"lo":64.5,"b":68.5,"hi":69.3},
{"m":530,"z":66.8,"c":65.7,"a":62.8,"lo":64.4,"b":68.4,"hi":68.8},
{"m":535,"z":66.8,"c":65.7,"a":62.8,"lo":64.4,"b":68.4,"hi":69.0},
{"m":540,"z":66.9,"c":65.8,"a":62.8,"lo":64.5,"b":68.5,"hi":69.4},
{"m":545,"z":66.9,"c":65.8,"a":62.9,"lo":64.5,"b":68.5,"hi":68.9},
{"m":550,"z":67.0,"c":65.9,"a":62.9,"lo":64.6,"b":68.6,"hi":70.5},
{"m":555,"z":67.0,"c":65.9,"a":62.8,"lo":64.6,"b":68.6,"hi":71.8},
{"m":560,"z":66.9,"c":65.8,"a":62.8,"lo":64.5,"b":68.5,"hi":69.0},
{"m":565,"z":67.0,"c":65.9,"a":62.8,"lo":64.6,"b":68.6,"hi":69.6},
{"m":570,"z":67.0,"c":65.9,"a":62.8,"lo":64.6,"b":68.6,"hi":72.0},
{"m":575,"z":67.1,"c":66.0,"a":62.8,"lo":64.7,"b":68.7,"hi":69.3},
{"m":580,"z":67.1,"c":66.0,"a":62.8,"lo":64.7,"b":68.7,"hi":72.5},
{"m":585,"z":67.0,"c":65.9,"a":62.7,"lo":64.6,"b":68.6,"hi":69.2},
{"m":590,"z":66.9,"c":65.8,"a":62.7,"lo":64.5,"b":68.5,"hi":70.4},
{"m":595,"z":66.8,"c":65.7,"a":62.7,"lo":64.4,"b":68.4,"hi":69.0},
{"m":600,"z":66.7,"c":65.6,"a":62.6,"lo":64.3,"b":68.8,"hi":70.8},
{"m":605,"z":66.8,"c":65.7,"a":62.7,"lo":64.4,"b":68.9,"hi":72.4},
{"m":610,"z":67.0,"c":65.8,"a":62.8,"lo":64.5,"b":69.2,"hi":73.5},
{"m":615,"z":67.2,"c":65.9,"a":62.8,"lo":64.6,"b":69.4,"hi":71.6},
{"m":620,"z":67.6,"c":66.0,"a":62.8,"lo":64.6,"b":69.8,"hi":76.0},
{"m":625,"z":67.9,"c":66.2,"a":62.9,"lo":64.7,"b":70.2,"hi":74.5},
{"m":630,"z":68.9,"c":66.8,"a":63.0,"lo":65.0,"b":71.2,"hi":79.5},
{"m":635,"z":68.2,"c":66.3,"a":62.9,"lo":64.6,"b":70.5,"hi":75.0},
{"m":640,"z":67.8,"c":66.0,"a":62.8,"lo":64.4,"b":70.2,"hi":81.2},
{"m":645,"z":68.4,"c":66.4,"a":62.8,"lo":64.6,"b":70.7,"hi":76.2},
{"m":650,"z":67.7,"c":66.0,"a":62.7,"lo":64.3,"b":70.0,"hi":78.6},
{"m":655,"z":68.9,"c":66.8,"a":62.9,"lo":64.7,"b":71.2,"hi":80.5},
{"m":660,"z":68.1,"c":66.3,"a":62.7,"lo":64.3,"b":70.4,"hi":80.0},
{"m":665,"z":67.6,"c":65.9,"a":62.4,"lo":64.0,"b":70.0,"hi":75.8},
{"m":670,"z":68.5,"c":66.5,"a":62.6,"lo":64.3,"b":70.8,"hi":81.8},
{"m":675,"z":69.2,"c":67.0,"a":62.7,"lo":64.5,"b":71.5,"hi":83.4},
{"m":680,"z":68.0,"c":66.2,"a":62.2,"lo":64.0,"b":70.3,"hi":77.4},
{"m":685,"z":70.0,"c":67.5,"a":62.2,"lo":64.4,"b":72.3,"hi":82.8},
{"m":690,"z":68.5,"c":66.5,"a":61.6,"lo":63.8,"b":70.8,"hi":79.0},
{"m":695,"z":69.4,"c":67.0,"a":61.5,"lo":64.0,"b":71.7,"hi":81.5},
{"m":700,"z":68.3,"c":66.4,"a":62.0,"lo":63.9,"b":70.6,"hi":84.2},
{"m":705,"z":68.9,"c":66.7,"a":62.3,"lo":64.2,"b":71.2,"hi":77.6},
{"m":710,"z":69.6,"c":67.2,"a":62.6,"lo":64.5,"b":71.9,"hi":83.0},
{"m":715,"z":68.7,"c":66.6,"a":62.4,"lo":64.1,"b":71.0,"hi":78.2},
{"m":720,"z":68.4,"c":66.4,"a":62.6,"lo":64.2,"b":70.7,"hi":85.5},
{"m":725,"z":69.9,"c":67.2,"a":62.4,"lo":64.6,"b":72.2,"hi":81.0},
{"m":730,"z":69.0,"c":66.6,"a":62.2,"lo":64.3,"b":71.3,"hi":79.6},
{"m":735,"z":68.5,"c":66.2,"a":62.1,"lo":64.0,"b":70.8,"hi":84.0},
{"m":740,"z":68.6,"c":66.3,"a":62.3,"lo":64.1,"b":70.9,"hi":78.5},
{"m":745,"z":68.9,"c":66.5,"a":62.8,"lo":64.2,"b":71.2,"hi":82.2},
{"m":750,"z":70.9,"c":68.2,"a":63.7,"lo":65.0,"b":73.2,"hi":80.5},
{"m":755,"z":69.8,"c":67.4,"a":63.2,"lo":64.8,"b":72.1,"hi":85.8},
{"m":760,"z":68.6,"c":66.4,"a":62.5,"lo":64.2,"b":70.9,"hi":77.6},
{"m":765,"z":68.4,"c":66.0,"a":62.1,"lo":63.9,"b":70.7,"hi":81.3},
{"m":770,"z":67.9,"c":65.7,"a":62.0,"lo":63.7,"b":70.2,"hi":79.0},
{"m":775,"z":68.0,"c":65.8,"a":61.9,"lo":63.8,"b":70.3,"hi":76.5},
{"m":780,"z":68.1,"c":65.8,"a":62.0,"lo":63.8,"b":70.4,"hi":80.4},
{"m":785,"z":67.8,"c":65.6,"a":61.8,"lo":63.6,"b":70.1,"hi":78.0},
{"m":790,"z":68.0,"c":65.8,"a":61.9,"lo":63.7,"b":70.3,"hi":82.6},
{"m":795,"z":67.9,"c":65.6,"a":62.2,"lo":63.8,"b":70.2,"hi":77.2},
{"m":800,"z":68.2,"c":65.9,"a":62.0,"lo":64.0,"b":70.5,"hi":81.0},
{"m":805,"z":68.9,"c":66.5,"a":63.0,"lo":64.3,"b":71.2,"hi":79.4},
{"m":810,"z":69.6,"c":67.2,"a":63.8,"lo":65.0,"b":71.9,"hi":83.6},
{"m":815,"z":68.6,"c":66.6,"a":63.6,"lo":64.6,"b":70.9,"hi":77.8},
{"m":820,"z":69.3,"c":67.2,"a":64.0,"lo":65.0,"b":71.6,"hi":82.0},
{"m":825,"z":68.8,"c":67.0,"a":64.2,"lo":65.1,"b":71.1,"hi":79.5},
{"m":830,"z":69.5,"c":67.6,"a":64.6,"lo":65.5,"b":71.8,"hi":84.6},
{"m":835,"z":69.8,"c":67.8,"a":64.4,"lo":65.6,"b":72.1,"hi":80.2},
{"m":840,"z":69.9,"c":68.0,"a":64.6,"lo":65.8,"b":72.2,"hi":83.0},
{"m":845,"z":69.0,"c":67.4,"a":64.5,"lo":65.4,"b":71.3,"hi":81.2},
{"m":850,"z":68.8,"c":67.1,"a":64.6,"lo":65.2,"b":71.1,"hi":84.4},
{"m":855,"z":68.4,"c":66.9,"a":64.7,"lo":65.0,"b":70.7,"hi":85.6},
{"m":860,"z":69.5,"c":67.6,"a":64.8,"lo":65.6,"b":71.8,"hi":82.5},
{"m":865,"z":70.6,"c":68.3,"a":65.0,"lo":66.2,"b":72.9,"hi":86.0},
{"m":870,"z":71.0,"c":68.6,"a":65.2,"lo":66.5,"b":73.3,"hi":84.0},
{"m":875,"z":71.4,"c":68.4,"a":65.6,"lo":66.4,"b":73.7,"hi":85.2},
{"m":880,"z":70.2,"c":67.8,"a":65.9,"lo":66.0,"b":72.5,"hi":79.8},
{"m":885,"z":69.5,"c":67.4,"a":65.4,"lo":65.6,"b":71.8,"hi":82.8},
{"m":890,"z":69.2,"c":67.2,"a":65.0,"lo":65.4,"b":71.5,"hi":78.5},
{"m":895,"z":69.0,"c":67.0,"a":65.0,"lo":65.3,"b":71.3,"hi":80.6},
{"m":900,"z":68.9,"c":66.8,"a":65.1,"lo":65.1,"b":71.2,"hi":81.5},
{"m":905,"z":68.4,"c":66.5,"a":65.0,"lo":64.8,"b":70.7,"hi":77.0},
{"m":910,"z":67.9,"c":66.2,"a":64.6,"lo":64.5,"b":70.2,"hi":78.8},
{"m":915,"z":67.4,"c":66.0,"a":64.2,"lo":64.2,"b":69.7,"hi":74.5},
{"m":920,"z":67.0,"c":65.8,"a":63.7,"lo":64.0,"b":69.2,"hi":72.0},
{"m":925,"z":66.7,"c":65.7,"a":63.4,"lo":63.9,"b":68.9,"hi":70.5},
{"m":930,"z":66.8,"c":65.8,"a":63.5,"lo":63.9,"b":69.0,"hi":75.6},
{"m":935,"z":66.7,"c":65.7,"a":63.6,"lo":63.9,"b":68.9,"hi":69.4},
{"m":940,"z":66.8,"c":65.7,"a":63.6,"lo":63.9,"b":69.0,"hi":71.5},
{"m":945,"z":66.9,"c":65.8,"a":63.6,"lo":64.0,"b":69.1,"hi":74.8},
{"m":950,"z":66.8,"c":65.8,"a":63.5,"lo":63.9,"b":69.0,"hi":69.6},
{"m":955,"z":66.9,"c":65.8,"a":63.6,"lo":64.0,"b":69.1,"hi":72.6},
{"m":960,"z":67.0,"c":65.9,"a":63.6,"lo":64.0,"b":69.2,"hi":70.4},
{"m":965,"z":66.9,"c":65.8,"a":63.5,"lo":64.0,"b":69.1,"hi":73.6},
{"m":970,"z":67.0,"c":65.8,"a":63.5,"lo":64.0,"b":69.2,"hi":71.5},
{"m":975,"z":67.3,"c":65.9,"a":63.6,"lo":64.1,"b":69.5,"hi":76.0},
{"m":980,"z":67.6,"c":66.0,"a":63.5,"lo":64.2,"b":69.8,"hi":72.5},
{"m":985,"z":68.2,"c":66.4,"a":63.5,"lo":64.4,"b":70.4,"hi":77.8},
{"m":990,"z":68.6,"c":66.6,"a":63.6,"lo":64.6,"b":70.8,"hi":74.0},
{"m":995,"z":68.0,"c":66.2,"a":63.6,"lo":64.4,"b":70.2,"hi":79.6},
{"m":1000,"z":67.6,"c":66.0,"a":63.5,"lo":64.2,"b":69.8,"hi":73.0},
{"m":1005,"z":67.8,"c":66.0,"a":63.6,"lo":64.2,"b":70.0,"hi":78.4},
{"m":1010,"z":68.5,"c":66.5,"a":63.8,"lo":64.5,"b":70.7,"hi":74.5},
{"m":1015,"z":68.0,"c":66.2,"a":63.7,"lo":64.3,"b":70.2,"hi":79.2},
{"m":1020,"z":67.5,"c":65.9,"a":63.7,"lo":64.1,"b":69.7,"hi":72.8},
{"m":1025,"z":67.3,"c":65.8,"a":63.8,"lo":64.0,"b":69.5,"hi":77.0},
{"m":1030,"z":67.6,"c":66.0,"a":63.9,"lo":64.2,"b":69.8,"hi":73.4},
{"m":1035,"z":68.0,"c":66.3,"a":64.0,"lo":64.4,"b":70.2,"hi":80.0},
{"m":1040,"z":67.8,"c":66.2,"a":63.9,"lo":64.3,"b":70.0,"hi":74.5},
{"m":1045,"z":68.9,"c":66.9,"a":64.0,"lo":64.8,"b":71.1,"hi":78.8},
{"m":1050,"z":68.2,"c":66.5,"a":63.9,"lo":64.5,"b":70.4,"hi":73.0},
{"m":1055,"z":67.4,"c":65.9,"a":63.9,"lo":64.1,"b":69.6,"hi":77.5},
{"m":1060,"z":67.1,"c":65.8,"a":64.0,"lo":64.0,"b":69.3,"hi":71.6},
{"m":1065,"z":67.0,"c":65.8,"a":64.0,"lo":64.0,"b":69.2,"hi":73.8},
{"m":1070,"z":66.9,"c":65.7,"a":64.0,"lo":63.9,"b":69.1,"hi":70.4},
{"m":1075,"z":66.8,"c":65.7,"a":64.0,"lo":63.9,"b":69.0,"hi":72.0},
{"m":1080,"z":66.8,"c":65.7,"a":64.0,"lo":63.9,"b":69.0,"hi":70.6},
{"m":1085,"z":66.9,"c":65.8,"a":64.1,"lo":64.0,"b":69.1,"hi":71.8},
{"m":1090,"z":67.0,"c":65.8,"a":64.0,"lo":64.0,"b":69.2,"hi":69.8},
{"m":1095,"z":66.9,"c":65.7,"a":63.9,"lo":63.9,"b":69.1,"hi":72.6},
{"m":1100,"z":66.8,"c":65.7,"a":63.9,"lo":63.9,"b":69.0,"hi":70.2},
{"m":1105,"z":66.7,"c":65.6,"a":63.9,"lo":63.8,"b":68.9,"hi":69.4},
{"m":1110,"z":66.8,"c":65.7,"a":64.0,"lo":63.9,"b":69.0,"hi":71.2},
{"m":1115,"z":66.8,"c":65.7,"a":64.0,"lo":63.9,"b":69.0,"hi":69.6},
{"m":1120,"z":66.7,"c":65.6,"a":63.9,"lo":63.8,"b":68.9,"hi":70.8},
{"m":1125,"z":66.7,"c":65.6,"a":63.9,"lo":63.8,"b":68.9,"hi":69.2},
{"m":1130,"z":66.8,"c":65.7,"a":64.0,"lo":63.9,"b":69.0,"hi":70.0},
{"m":1135,"z":66.9,"c":65.8,"a":64.0,"lo":64.0,"b":69.1,"hi":69.5},
{"m":1140,"z":66.9,"c":65.8,"a":64.0,"lo":64.0,"b":69.1,"hi":69.8},
{"m":1145,"z":67.0,"c":65.8,"a":64.1,"lo":64.0,"b":69.2,"hi":70.6},
{"m":1150,"z":67.0,"c":65.9,"a":64.1,"lo":64.1,"b":69.2,"hi":69.6},
{"m":1155,"z":67.1,"c":65.9,"a":64.2,"lo":64.1,"b":69.3,"hi":70.8},
{"m":1160,"z":67.1,"c":66.0,"a":64.0,"lo":64.1,"b":69.3,"hi":69.8},
{"m":1165,"z":67.2,"c":66.0,"a":63.8,"lo":64.2,"b":69.4,"hi":69.9},
{"m":1170,"z":67.3,"c":66.1,"a":63.7,"lo":64.2,"b":69.5,"hi":70.0},
{"m":1175,"z":67.2,"c":66.0,"a":63.5,"lo":64.1,"b":69.4,"hi":69.8},
{"m":1180,"z":67.6,"c":66.4,"a":63.4,"lo":64.2,"b":69.8,"hi":79.5},
{"m":1185,"z":67.0,"c":65.8,"a":63.3,"lo":64.0,"b":69.2,"hi":70.5},
{"m":1190,"z":66.8,"c":65.7,"a":63.4,"lo":63.9,"b":69.0,"hi":69.4},
{"m":1195,"z":66.9,"c":65.7,"a":63.6,"lo":63.9,"b":69.1,"hi":69.2},
{"m":1200,"z":67.0,"c":65.8,"a":63.6,"lo":64.0,"b":69.2,"hi":69.5},
{"m":1205,"z":67.1,"c":65.9,"a":63.8,"lo":64.1,"b":69.3,"hi":70.2},
{"m":1210,"z":67.8,"c":66.6,"a":64.6,"lo":64.8,"b":70.0,"hi":71.8},
{"m":1215,"z":69.0,"c":68.0,"a":66.0,"lo":66.0,"b":71.2,"hi":73.5},
{"m":1220,"z":71.0,"c":70.4,"a":68.5,"lo":68.0,"b":73.5,"hi":78.0},
{"m":1225,"z":74.5,"c":73.8,"a":71.5,"lo":70.5,"b":77.5,"hi":86.0},
{"m":1230,"z":79.1,"c":77.0,"a":73.4,"lo":72.0,"b":81.5,"hi":88.0},
{"m":1235,"z":75.5,"c":74.6,"a":72.0,"lo":71.0,"b":78.5,"hi":91.0},
{"m":1240,"z":74.5,"c":73.7,"a":71.5,"lo":70.5,"b":77.5,"hi":85.0},
{"m":1245,"z":74.8,"c":73.6,"a":71.8,"lo":70.4,"b":77.8,"hi":90.6},
{"m":1250,"z":75.0,"c":74.0,"a":72.5,"lo":70.8,"b":78.0,"hi":84.5},
{"m":1255,"z":74.2,"c":73.3,"a":71.6,"lo":70.2,"b":77.2,"hi":89.0},
{"m":1260,"z":75.2,"c":74.3,"a":72.2,"lo":70.8,"b":78.2,"hi":86.0},
{"m":1265,"z":75.9,"c":75.0,"a":73.0,"lo":71.4,"b":78.9,"hi":91.8},
{"m":1270,"z":76.4,"c":75.6,"a":73.5,"lo":71.8,"b":79.4,"hi":85.0},
{"m":1275,"z":76.0,"c":75.3,"a":73.0,"lo":71.6,"b":79.0,"hi":90.0},
{"m":1280,"z":76.8,"c":76.0,"a":73.5,"lo":72.0,"b":79.8,"hi":86.0},
{"m":1285,"z":77.4,"c":76.4,"a":73.8,"lo":72.3,"b":80.4,"hi":88.0},
{"m":1290,"z":75.0,"c":74.2,"a":72.0,"lo":71.4,"b":77.5,"hi":82.0},
{"m":1295,"z":73.1,"c":72.6,"a":71.2,"lo":70.8,"b":75.5,"hi":79.0},
{"m":1300,"z":72.9,"c":72.5,"a":71.2,"lo":70.9,"b":75.2,"hi":77.5},
{"m":1305,"z":73.0,"c":72.6,"a":71.0,"lo":70.8,"b":75.2,"hi":78.2},
{"m":1310,"z":72.9,"c":72.5,"a":70.6,"lo":70.7,"b":75.0,"hi":76.8},
{"m":1315,"z":73.2,"c":72.6,"a":70.8,"lo":70.8,"b":75.3,"hi":77.6},
{"m":1320,"z":73.7,"c":72.8,"a":71.4,"lo":71.0,"b":75.8,"hi":77.0},
{"m":1325,"z":74.1,"c":73.1,"a":71.7,"lo":71.2,"b":76.2,"hi":81.5},
{"m":1330,"z":74.4,"c":73.3,"a":71.6,"lo":71.4,"b":76.4,"hi":77.5},
{"m":1335,"z":74.0,"c":73.0,"a":71.0,"lo":71.2,"b":76.0,"hi":77.4},
{"m":1340,"z":73.3,"c":72.6,"a":70.5,"lo":70.9,"b":75.2,"hi":76.0},
{"m":1345,"z":72.8,"c":72.3,"a":69.8,"lo":70.6,"b":74.8,"hi":75.6},
{"m":1350,"z":72.4,"c":72.0,"a":69.2,"lo":70.3,"b":74.2,"hi":74.8},
{"m":1355,"z":72.2,"c":71.8,"a":69.2,"lo":70.2,"b":74.0,"hi":74.8},
{"m":1360,"z":72.0,"c":71.6,"a":68.8,"lo":70.1,"b":73.8,"hi":74.4},
{"m":1365,"z":72.0,"c":71.4,"a":68.5,"lo":70.0,"b":73.8,"hi":74.4},
{"m":1370,"z":71.9,"c":71.3,"a":68.2,"lo":69.9,"b":73.6,"hi":73.8},
{"m":1375,"z":71.8,"c":71.2,"a":67.8,"lo":69.8,"b":73.5,"hi":74.0},
{"m":1380,"z":71.8,"c":71.1,"a":67.4,"lo":69.7,"b":73.4,"hi":73.6},
{"m":1385,"z":71.7,"c":71.0,"a":67.3,"lo":69.6,"b":73.4,"hi":74.2},
{"m":1390,"z":71.7,"c":71.0,"a":67.3,"lo":69.6,"b":73.4,"hi":73.4},
{"m":1395,"z":71.6,"c":70.9,"a":67.2,"lo":69.5,"b":73.3,"hi":74.0},
{"m":1400,"z":71.7,"c":71.0,"a":67.3,"lo":69.6,"b":73.4,"hi":73.6},
{"m":1405,"z":71.9,"c":71.2,"a":67.4,"lo":69.8,"b":73.6,"hi":74.8},
{"m":1410,"z":72.0,"c":71.3,"a":67.5,"lo":69.9,"b":73.7,"hi":74.0},
{"m":1415,"z":72.3,"c":71.6,"a":68.2,"lo":70.1,"b":74.0,"hi":75.0},
{"m":1420,"z":73.2,"c":72.4,"a":69.5,"lo":70.6,"b":74.8,"hi":76.0},
{"m":1425,"z":73.7,"c":72.9,"a":70.9,"lo":71.0,"b":75.3,"hi":82.3},
{"m":1430,"z":73.0,"c":72.4,"a":70.2,"lo":70.7,"b":74.8,"hi":76.0},
{"m":1435,"z":72.5,"c":72.0,"a":69.2,"lo":70.4,"b":74.3,"hi":75.4},
{"m":1440,"z":72.3,"c":71.8,"a":69.0,"lo":70.3,"b":74.1,"hi":74.6}
]
},
"vconcat": [
{
  "title": {"text": "average and peak noise level (1 min sampling)", "anchor": "start", "frame": "group", "fontSize": 11.5, "fontWeight": "bold", "offset": 6},
  "width": 2284, "height": 504,
  "data": {"name": "top"},
  "resolve": {"axis": {"x": "independent", "y": "independent"}, "scale": {"color": "independent"}},
  "layer": [
    {"mark": {"type": "point", "opacity": 0},
     "encoding": {
       "x": {"field": "m", "type": "quantitative", "scale": {"domain": [0, 1438], "nice": false, "zero": false},
             "axis": {"orient": "bottom", "values": [30,60,90,150,180,210,270,300,330,390,420,450,510,540,570,630,660,690,750,780,810,870,900,930,990,1020,1050,1110,1140,1170,1230,1260,1290,1350,1380,1410], "labels": false, "title": null, "grid": true, "gridColor": "#c8c8c8", "gridWidth": 0.8, "gridDash": [3, 2], "tickSize": 3, "domain": false}},
       "y": {"field": "Z", "type": "quantitative", "scale": {"domain": [24, 108], "nice": false, "zero": false},
             "axis": {"orient": "left", "values": [28,32,40,44,52,56,64,68,76,80,88,92,100,104], "labels": false, "title": null, "grid": true, "gridColor": "#c8c8c8", "gridWidth": 0.8, "gridDash": [3, 2], "tickSize": 3, "domain": false}}
     }},
    {"mark": {"type": "point", "opacity": 0},
     "encoding": {
       "x": {"field": "m", "type": "quantitative", "scale": {"domain": [0, 1438], "nice": false, "zero": false},
             "axis": {"orient": "bottom", "values": [0,120,240,360,480,600,720,840,960,1080,1200,1320], "labelExpr": "(datum.value < 600 ? '0' : '') + floor(datum.value / 60) + ':00'", "title": "time", "grid": true, "gridColor": "#b0b0b0", "gridWidth": 1.4, "tickSize": 5, "labelPadding": 4, "titlePadding": 6, "labelFlush": false, "labelOverlap": false}},
       "y": {"field": "Z", "type": "quantitative", "scale": {"domain": [24, 108], "nice": false, "zero": false},
             "axis": {"orient": "left", "values": [24,36,48,60,72,84,96,108], "title": "dB SPL", "grid": true, "gridColor": "#b0b0b0", "gridWidth": 1.4, "tickSize": 5, "labelPadding": 6, "titlePadding": 8, "labelFlush": false, "labelOverlap": false}}
     }},
    {"mark": {"type": "point", "opacity": 0},
     "encoding": {
       "x": {"field": "m", "type": "quantitative", "scale": {"domain": [0, 1438], "nice": false, "zero": false}, "axis": null},
       "y": {"field": "Z", "type": "quantitative", "scale": {"domain": [24, 108], "nice": false, "zero": false},
             "axis": {"orient": "right", "values": [24,36,48,60,72,84,96,108], "title": "dB SPL", "titleAngle": 270, "titleBaseline": "top", "grid": false, "tickSize": 5, "labelPadding": 6, "titlePadding": 8, "labelFlush": false, "labelOverlap": false}}
     }},
    {"mark": {"type": "point", "opacity": 0},
     "encoding": {
       "x": {"field": "m", "type": "quantitative", "scale": {"domain": [0, 1438], "nice": false, "zero": false}, "axis": null},
       "y": {"field": "Z", "type": "quantitative", "scale": {"domain": [24, 108], "nice": false, "zero": false},
             "axis": {"orient": "right", "values": [28,32,40,44,52,56,64,68,76,80,88,92,100,104], "labels": false, "title": null, "grid": false, "tickSize": 3, "domain": false}}
     }},
    {"transform": [{"fold": ["R", "Q", "P"], "as": ["k", "v"]}],
     "mark": {"type": "point", "shape": "cross", "filled": true, "size": 14, "opacity": 0.85},
     "encoding": {
       "x": {"field": "m", "type": "quantitative", "scale": {"domain": [0, 1438], "nice": false, "zero": false}, "axis": null},
       "y": {"field": "v", "type": "quantitative", "scale": {"domain": [24, 108], "nice": false, "zero": false}, "axis": null},
       "color": {"field": "k", "type": "nominal",
                 "scale": {"domain": ["P", "Q", "R"], "range": ["#1e90ff", "#ff00ff", "#2e8b57"]},
                 "legend": {"orient": "none", "legendX": 2096, "legendY": 452, "title": null, "symbolType": "circle", "symbolSize": 30, "symbolStrokeWidth": 0, "symbolOpacity": 1, "rowPadding": 2,
                            "labelExpr": "{'P': 'peak dB(Z)', 'Q': 'peak dB(C)', 'R': 'peak dB(A)'}[datum.label]"}}
     }},
    {"transform": [{"fold": ["A", "C", "Z"], "as": ["k", "v"]}],
     "mark": {"type": "line", "strokeWidth": 1.5},
     "encoding": {
       "x": {"field": "m", "type": "quantitative", "scale": {"domain": [0, 1438], "nice": false, "zero": false}, "axis": null},
       "y": {"field": "v", "type": "quantitative", "scale": {"domain": [24, 108], "nice": false, "zero": false}, "axis": null},
       "color": {"field": "k", "type": "nominal",
                 "scale": {"domain": ["Z", "C", "A"], "range": ["#4682b4", "#da70d6", "#9acd32"]},
                 "legend": {"orient": "none", "legendX": 2187, "legendY": 446, "title": null, "symbolType": "M-2,0H2", "symbolSize": 121, "symbolStrokeWidth": 4, "symbolOffset": 6, "labelOffset": 14, "rowPadding": 0,
                            "labelExpr": "{'Z': 'avg dB(Z)', 'C': 'avg dB(C)', 'A': 'avg dB(A)'}[datum.label]"}}
     }}
  ]
},
{
  "title": {"text": "average noise level (5 min with 15s min/max dB envelope)", "anchor": "start", "frame": "group", "fontSize": 11.5, "fontWeight": "bold", "offset": 6},
  "width": 2284, "height": 504,
  "data": {"name": "bot"},
  "resolve": {"axis": {"x": "independent", "y": "independent"}},
  "layer": [
    {"mark": {"type": "point", "opacity": 0},
     "encoding": {
       "x": {"field": "m", "type": "quantitative", "scale": {"domain": [0, 1440], "nice": false, "zero": false},
             "axis": {"orient": "bottom", "values": [30,60,90,150,180,210,270,300,330,390,420,450,510,540,570,630,660,690,750,780,810,870,900,930,990,1020,1050,1110,1140,1170,1230,1260,1290,1350,1380,1410], "labels": false, "title": null, "grid": true, "gridColor": "#c8c8c8", "gridWidth": 0.8, "gridDash": [3, 2], "tickSize": 3, "domain": false}},
       "y": {"field": "z", "type": "quantitative", "scale": {"domain": [24, 108], "nice": false, "zero": false},
             "axis": {"orient": "left", "values": [28,32,40,44,52,56,64,68,76,80,88,92,100,104], "labels": false, "title": null, "grid": true, "gridColor": "#c8c8c8", "gridWidth": 0.8, "gridDash": [3, 2], "tickSize": 3, "domain": false}}
     }},
    {"mark": {"type": "point", "opacity": 0},
     "encoding": {
       "x": {"field": "m", "type": "quantitative", "scale": {"domain": [0, 1440], "nice": false, "zero": false},
             "axis": {"orient": "bottom", "values": [0,120,240,360,480,600,720,840,960,1080,1200,1320,1440], "labelExpr": "(datum.value >= 1440 ? '00' : (datum.value < 600 ? '0' : '') + floor(datum.value / 60)) + ':00:00'", "title": "time", "grid": true, "gridColor": "#b0b0b0", "gridWidth": 1.4, "tickSize": 5, "labelPadding": 4, "titlePadding": 6, "labelFlush": false, "labelOverlap": false}},
       "y": {"field": "z", "type": "quantitative", "scale": {"domain": [24, 108], "nice": false, "zero": false},
             "axis": {"orient": "left", "values": [24,36,48,60,72,84,96,108], "title": "dB SPL", "grid": true, "gridColor": "#b0b0b0", "gridWidth": 1.4, "tickSize": 5, "labelPadding": 6, "titlePadding": 8, "labelFlush": false, "labelOverlap": false}}
     }},
    {"mark": {"type": "point", "opacity": 0},
     "encoding": {
       "x": {"field": "m", "type": "quantitative", "scale": {"domain": [0, 1440], "nice": false, "zero": false}, "axis": null},
       "y": {"field": "z", "type": "quantitative", "scale": {"domain": [24, 108], "nice": false, "zero": false},
             "axis": {"orient": "right", "values": [24,36,48,60,72,84,96,108], "title": "dB SPL", "titleAngle": 270, "titleBaseline": "top", "grid": false, "tickSize": 5, "labelPadding": 6, "titlePadding": 8, "labelFlush": false, "labelOverlap": false}}
     }},
    {"mark": {"type": "point", "opacity": 0},
     "encoding": {
       "x": {"field": "m", "type": "quantitative", "scale": {"domain": [0, 1440], "nice": false, "zero": false}, "axis": null},
       "y": {"field": "z", "type": "quantitative", "scale": {"domain": [24, 108], "nice": false, "zero": false},
             "axis": {"orient": "right", "values": [28,32,40,44,52,56,64,68,76,80,88,92,100,104], "labels": false, "title": null, "grid": false, "tickSize": 3, "domain": false}}
     }},
    {"mark": {"type": "area", "color": "#f08080", "opacity": 0.3},
     "encoding": {
       "x": {"field": "m", "type": "quantitative", "scale": {"domain": [0, 1440], "nice": false, "zero": false}, "axis": null},
       "y": {"field": "lo", "type": "quantitative", "scale": {"domain": [24, 108], "nice": false, "zero": false}, "axis": null},
       "y2": {"field": "b"}
     }},
    {"transform": [{"filter": "datum.hi > datum.b + 0.3"}],
     "mark": {"type": "rule", "color": "#f08080", "opacity": 0.42, "strokeWidth": 2.2},
     "encoding": {
       "x": {"field": "m", "type": "quantitative", "scale": {"domain": [0, 1440], "nice": false, "zero": false}, "axis": null},
       "y": {"field": "b", "type": "quantitative", "scale": {"domain": [24, 108], "nice": false, "zero": false}, "axis": null},
       "y2": {"field": "hi"}
     }},
    {"transform": [{"fold": ["a", "c", "z"], "as": ["k", "v"]}],
     "mark": {"type": "line", "strokeWidth": 1.8},
     "encoding": {
       "x": {"field": "m", "type": "quantitative", "scale": {"domain": [0, 1440], "nice": false, "zero": false}, "axis": null},
       "y": {"field": "v", "type": "quantitative", "scale": {"domain": [24, 108], "nice": false, "zero": false}, "axis": null},
       "color": {"field": "k", "type": "nominal",
                 "scale": {"domain": ["z", "c", "a"], "range": ["#dc143c", "#ff8c00", "#ffd700"]},
                 "legend": {"orient": "none", "legendX": 2218, "legendY": 1004, "title": null, "symbolType": "M-2,0H2", "symbolSize": 121, "symbolStrokeWidth": 4, "symbolOffset": 6, "labelOffset": 14, "rowPadding": 0,
                            "labelExpr": "{'z': 'dB(Z)', 'c': 'dB(C)', 'a': 'dB(A)'}[datum.label]"}}
     }}
  ]
}
]
}
